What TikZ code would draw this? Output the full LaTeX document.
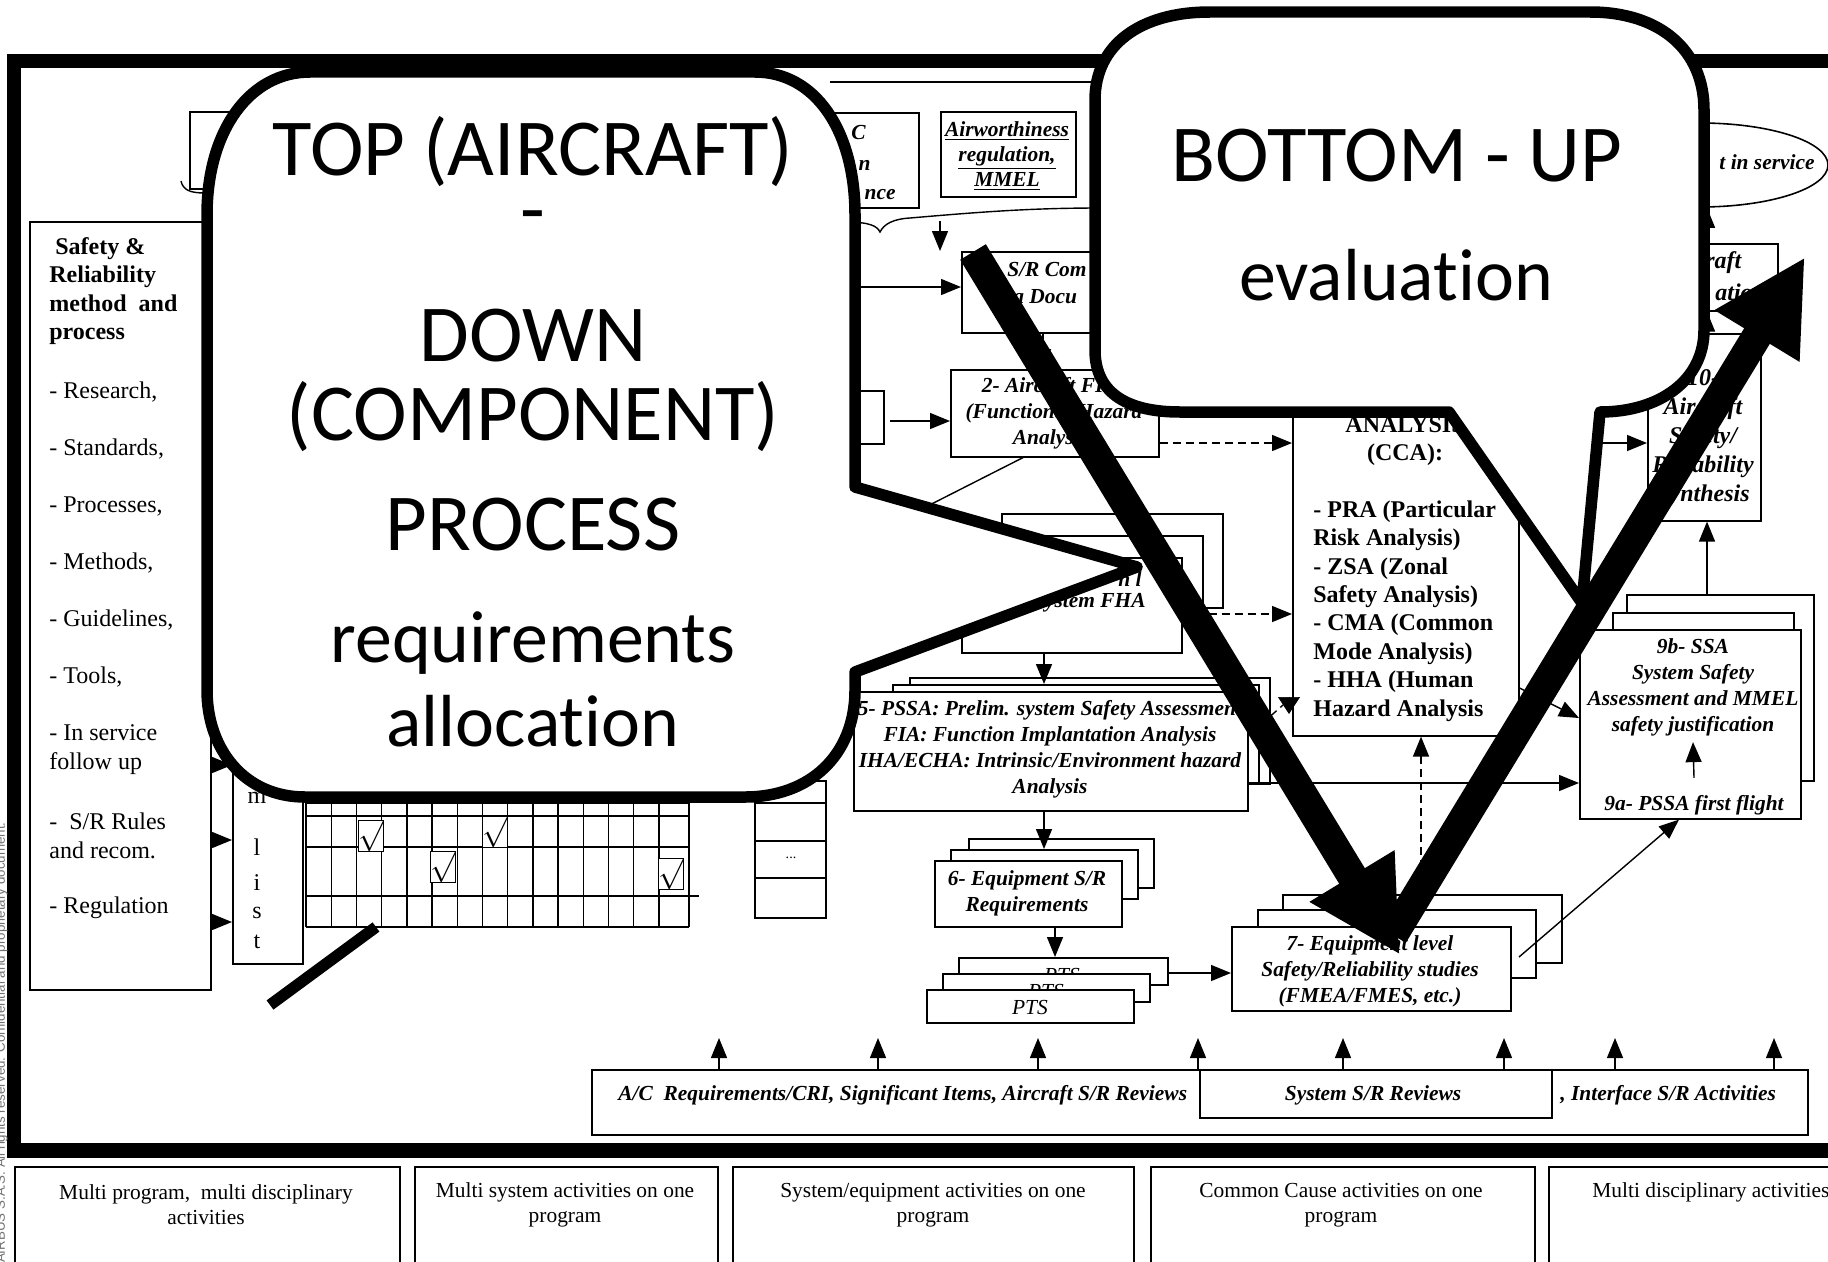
\documentclass[tikz,border=0pt]{standalone}
\usepackage{fontspec}
\setmainfont{Liberation Serif}
\newfontfamily\callfont[Ligatures=NoCommon]{Carlito}
\newfontfamily\notefont{Liberation Sans}
\usetikzlibrary{arrows.meta,shapes.geometric}

\newcommand{\tickmark}{{\fontsize{17}{17}\selectfont$\surd$}}

\tikzset{
  wh/.style 2 args={minimum width={#1*0.02cm}, minimum height={#2*0.02cm}},
  box/.style={draw, line width=0.9pt, fill=white, inner sep=0pt},
  bitext/.style={font=\bfseries\itshape\fontsize{12.2}{14.8}\selectfont, align=center, inner sep=0pt},
  bibig/.style={font=\bfseries\itshape\fontsize{13.66}{16.5}\selectfont, align=center, inner sep=0pt},
  ittext/.style={font=\itshape\fontsize{12.2}{14.8}\selectfont, inner sep=0pt},
  rmtext/.style={font=\fontsize{12.2}{14.2}\selectfont, align=center, inner sep=0pt},
  lefttext/.style={font=\fontsize{13.66}{16.5}\selectfont, align=left, inner sep=0pt},
  bftext/.style={font=\bfseries\fontsize{13.66}{16.2}\selectfont, align=left, inner sep=0pt},
  thinline/.style={line width=0.8pt},
  arr/.style={line width=0.8pt, -{Triangle[length=0.4cm, width=0.32cm]}},
  darr/.style={arr, dash pattern=on 0.16cm off 0.1cm},
  callout/.style={line width=0.23cm, fill=white, line join=round},
  capsline/.style={font=\callfont\fontsize{46}{46}\selectfont, inner sep=0pt, anchor=base},
  lowline/.style={font=\callfont\fontsize{42}{42}\selectfont, inner sep=0pt, anchor=base},
  fat/.style={line width=0.6cm, -{Triangle[length=1.85cm, width=1.85cm]}},
}

\begin{document}
\begin{tikzpicture}[x=0.02cm, y=-0.02cm]
  \useasboundingbox (0,0) rectangle (1828,1261);
  \fill[white] (0,0) rectangle (1828,1261);

  % frame and side note
  \draw[line width=0.3cm] (14,61) rectangle (1870,1150);
  \node[font=\notefont\fontsize{7.6}{7.6}\selectfont, text=black!55, rotate=90, anchor=base east, inner sep=0pt] (note) at (5,822) {\textcopyright{} AIRBUS S.A.S. All rights reserved. Confidential and proprietary document.};

  % left column
  \node[box, wh={181}{768}, anchor=north west] (srbox) at (29,221) {};
  \node[bftext, anchor=west] (srhead) at (49,291) {\hspace*{0.12cm}Safety \&\\Reliability\\method\ \ and\\process};
  \foreach \yy/\txt [count=\i] in {392/{- Research,}, 449/{- Standards,}, 506/{- Processes,}, 563/{- Methods,}, 620/{- Guidelines,}, 677/{- Tools,}, 750/{- In service\\follow up}, 836/{-\ \ S/R Rules\\and recom.}, 908/{- Regulation}}
    \node[lefttext, anchor=west] (item\i) at (49,\yy) {\txt};

  \node[box, wh={70}{190}, anchor=north west] (ilist) at (232,773) {};
  \foreach \yy/\ch [count=\i] in {798/m, 847/l, 883/i, 913/s, 942/t}
    \node[lefttext] (ch\i) at (257,\yy) {\ch};
  \foreach \yy [count=\i] in {765,840,922}
    \draw[arr] (srbox.east |- 0,\yy) -- (ilist.west |- 0,\yy);

  % grid
  \foreach \c in {0,...,14}
    \draw[thinline] ({306+25.2*\c},780) -- ({306+25.2*\c},927);
  \draw[thinline] (689,780) -- (689,927);
  \foreach \yy in {803,816,847,927}
    \draw[thinline] (306,\yy) -- (689,\yy);
  \draw[thinline] (306,896) -- (699,896);
  \foreach \xx/\yy [count=\i] in {371/836, 495/832, 443/867, 671/874}
    \node[box, wh={22}{31}, line width=0.6pt] (tick\i) at (\xx,\yy) {\tickmark};
  \node[box, wh={71}{137}, anchor=north west] (colbox) at (754,780) {};
  \foreach \yy in {803,841,878}
    \draw[thinline] (colbox.west |- 0,\yy) -- (colbox.east |- 0,\yy);
  \node[font=\fontsize{8}{8}\selectfont, inner sep=0pt] (dots) at (791,858) {...};
  \draw[line width=0.23cm] (270,1005) -- (376,927);

  % top inputs
  \draw[thinline] (830,82) -- (1100,82);
  \node[box, wh={141}{77}, anchor=north west] (tlbox) at (189,111) {};
  \node[box, wh={218}{95}, anchor=north west] (acbox) at (700,112) {};
  \node[bitext, anchor=east] (acC) at (866,133) {C};
  \node[bitext, anchor=east] (acn) at (871,165) {n};
  \node[bitext, anchor=east] (acnce) at (896,195) {nce};
  \node[box, wh={135}{85}, anchor=north west] (awbox) at (940,111) {};
  \node[bitext, font=\bfseries\itshape\fontsize{12.2}{14.2}\selectfont] (awtext) at (1007,156) {\underline{Airworthiness}\\\underline{regulation,}\\\underline{MMEL}};
  \draw[thinline] (181,181) .. controls (183,190) and (190,193) .. (205,193) -- (845,222) .. controls (870,222) and (877,226) .. (880,232) .. controls (884,224) and (893,219) .. (910,218) .. controls (980,212) and (1030,208) .. (1100,208);
  \coordinate (drop) at (940,221);

  % system chain
  \node[box, wh={200}{81}, anchor=north west] (b1) at (961,251) {};
  \node[bitext, anchor=west] (b1a) at (1007,270) {S/R Com};
  \node[bitext, anchor=west] (b1b) at (1013,297) {a Docu};
  \draw[arr] (drop) -- (b1.north -| drop);
  \coordinate (in1) at (850,287);
  \draw[arr] (in1) -- (b1.west |- in1);

  \node[box, wh={208}{87}, anchor=north west] (b2) at (950,369) {};
  \node[bitext] (b2t) at (1054,413) {2- Aircraft FHA\\(Functional Hazard\\Analysis)};
  \draw[arr] (b1.south -| 1043,0) -- (b2.north -| 1043,0);
  \node[box, wh={83}{53}, anchor=north west] (sbox) at (800,390) {};
  \coordinate (in2) at (890,421);
  \draw[arr] (in2) -- (b2.west |- in2);
  \draw[thinline] (b2.south -| 1023,0) -- (900,520);

  \node[box, wh={221}{94}, anchor=north west] (f3c) at (1001,513) {};
  \node[box, wh={222}{72}, anchor=north west] (f3b) at (980,535) {};
  \node[box, wh={220}{95}, anchor=north west] (f3a) at (961,557) {};
  \node[bitext, anchor=west] (f3t1) at (1118,579) {n l};
  \node[bitext, anchor=east] (f3t2) at (1146,603) {System FHA};

  \node[box, wh={360}{106}, anchor=north west] (p5c) at (909,677) {};
  \node[box, wh={366}{99}, anchor=north west] (p5b) at (892,684) {};
  \node[box, wh={394}{119}, anchor=north west] (p5a) at (853,691) {};
  \node[bitext] (p5t) at (1050,749) {5- PSSA: Prelim. system Safety Assessment\\FIA: Function Implantation Analysis\\IHA/ECHA: Intrinsic/Environment hazard\\Analysis};
  \draw[arr] (f3a.south -| 1044,0) -- (p5b.north -| 1044,0);

  \node[box, wh={185}{49}, anchor=north west] (e6c) at (968,838) {};
  \node[box, wh={187}{49}, anchor=north west] (e6b) at (950,849) {};
  \node[box, wh={187}{66}, anchor=north west] (e6a) at (934,860) {};
  \node[bitext] (e6t) at (1027,893) {6- Equipment S/R\\Requirements};
  \draw[arr] (p5a.south -| 1044,0) -- (e6b.north -| 1044,0);

  \node[box, wh={209}{27}, anchor=north west] (ptsc) at (958,957) {};
  \node[ittext] (ptsct) at (1062,975) {PTS};
  \node[box, wh={207}{28}, anchor=north west] (ptsb) at (942,973) {};
  \node[ittext] (ptsbt) at (1046,991) {PTS};
  \node[box, wh={207}{33}, anchor=north west] (ptsa) at (926,989) {};
  \node[ittext] (ptsat) at (1030,1007) {PTS};
  \draw[arr] (e6a.south -| 1055,0) -- (ptsc.north -| 1055,0);

  \node[box, wh={279}{68}, anchor=north west] (b7c) at (1282,894) {};
  \node[box, wh={278}{68}, anchor=north west] (b7b) at (1257,909) {};
  \node[box, wh={279}{84}, anchor=north west] (b7a) at (1231,926) {};
  \node[bitext] (b7t) at (1370,971) {7- Equipment level\\Safety/Reliability studies\\(FMEA/FMES, etc.)};
  \draw[arr] (ptsc.east |- 0,973) -- (b7a.west |- 0,973);

  % common cause analysis
  \node[box, wh={226}{365}, anchor=north west] (cca) at (1292,370) {};
  \node[font=\bfseries\fontsize{13.66}{16.2}\selectfont, align=center, inner sep=0pt] (ccah) at (1405,441) {ANALYSIS\\(CCA):};
  \node[bftext, anchor=west] (ccal) at (1313,611) {- PRA (Particular\\Risk Analysis)\\- ZSA (Zonal\\Safety Analysis)\\- CMA (Common\\Mode Analysis)\\- HHA (Human\\Hazard Analysis};
  \draw[darr] (b2.east |- 0,443) -- (cca.west |- 0,443);
  \draw[darr] (f3a.east |- 0,614) -- (cca.west |- 0,614);
  \draw[thinline, dash pattern=on 0.16cm off 0.1cm] (p5c.east |- 0,716) -- (1283,705);
  \draw[-{Triangle[length=0.34cm, width=0.44cm]}] (1289,697) -- (1289,714);
  \draw[darr] (b7c.north -| 1421,0) -- (cca.south -| 1421,0);

  % aircraft level
  \node[box, wh={187}{186}, anchor=north west] (s9c) at (1626,594) {};
  \node[box, wh={181}{100}, anchor=north west] (s9b) at (1612,612) {};
  \node[box, wh={221}{189}, anchor=north west] (s9a) at (1579,629) {};
  \node[bitext] (s9t) at (1693,687) {9b- SSA\\System Safety\\Assessment and MMEL\\safety justification};
  \node[bitext] (s9ft) at (1694,805) {9a- PSSA first flight};
  \draw[arr] ([yshift=0.34cm]s9ft.north) -- ([yshift=-0.12cm]s9t.south);
  \draw[arr] (cca.east |- 0,688) -- (s9a.west |- 0,718);
  \draw[arr] (p5a.east |- 0,783) -- (s9a.west |- 0,783);
  \coordinate (out7) at (1519,957);
  \draw[arr] (out7) -- (s9a.south -| 1679,0);

  \node[box, wh={113}{187}, anchor=north west] (b10) at (1647,333) {};
  \node[bibig] (b10t) at (1703,438) {10-\\Aircraft\\Safety/\\Reliability\\Synthesis};
  \draw[arr] (s9c.north -| 1707,0) -- (b10.south -| 1707,0);
  \coordinate (in10) at (1592,443);
  \draw[arr] (in10) -- (b10.west |- in10);

  \node[box, wh={130}{67}, anchor=north west] (b11) at (1647,243) {};
  \node[bibig, anchor=west] (b11a) at (1705,263) {raft};
  \node[bibig, anchor=west] (b11b) at (1715,292) {atio};
  \draw[arr] (b10.north -| 1707,0) -- (b11.south -| 1707,0);
  \node[draw, ellipse, line width=0.9pt, fill=white, minimum width=5.12cm, minimum height=1.68cm, inner sep=0pt] (ell) at (1700,165) {};
  \node[bitext, anchor=east] (ellt) at (1815,162) {t in service};
  \draw[arr] (b11.north -| 1707,0) -- (ell.south -| 1707,0);

  % reviews bar
  \node[box, wh={1216}{65}, anchor=north west] (revbar) at (591,1069) {};
  \node[box, wh={352}{48}, anchor=north west] (revsys) at (1199,1069) {};
  \node[bitext, anchor=west] (rev1) at (618,1095) {A/C\ \ Requirements/CRI, Significant Items, Aircraft S/R Reviews};
  \node[bitext] (rev2) at (1373,1095) {System S/R Reviews};
  \node[bitext, anchor=west] (rev3) at (1560,1095) {, Interface S/R Activities};
  \foreach \xx [count=\i] in {719,878,1038,1198,1343,1504,1615,1774} {
    \coordinate (up\i) at (\xx,1038);
    \draw[arr] (revbar.north -| up\i) -- (up\i);
  }

  % activity row
  \foreach \xa/\ww [count=\i] in {14/385, 414/303, 732/401, 1150/384, 1548/400}
    \node[box, line width=1.1pt, anchor=north west, wh={\ww}{150}] (row\i) at (\xa,1166) {};
  \node[rmtext] (row1t) at (206,1205) {Multi program,\ \ multi disciplinary\\activities};
  \node[rmtext] (row2t) at (565,1205) {Multi system activities on one\\program};
  \node[rmtext] (row3t) at (933,1205) {System/equipment activities on one\\program};
  \node[rmtext] (row4t) at (1341,1205) {Common Cause activities on one\\program};
  \node[rmtext, anchor=west] (row5t) at (1592,1192) {Multi disciplinary activities};

  % callouts
  \draw[callout] (310,72) -- (755,72) .. controls (815,72) and (855,130) .. (855,215) -- (855,487) -- (1137,567) -- (855,672) -- (855,690) .. controls (855,755) and (810,797) .. (745,797) -- (305,797) .. controls (245,797) and (207,750) .. (207,690) -- (207,215) .. controls (207,130) and (250,72) .. (310,72) -- cycle;
  \node[capsline] (td1) at (533,175) {TOP (AIRCRAFT)};
  \node[capsline] (td2) at (533,236) {-};
  \node[capsline] (td3) at (533,361) {DOWN};
  \node[capsline] (td4) at (533,440) {(COMPONENT)};
  \node[capsline] (td5) at (533,550) {PROCESS};
  \node[lowline] (td6) at (533,662) {requirements};
  \node[lowline] (td7) at (533,746) {allocation};

  \draw[callout] (1210,12) -- (1590,12) .. controls (1660,12) and (1704,50) .. (1704,110) -- (1704,330) .. controls (1704,380) and (1660,412) .. (1600,412) -- (1582,603) -- (1449,412) -- (1180,412) .. controls (1130,412) and (1095,395) .. (1095,350) -- (1095,100) .. controls (1095,45) and (1140,12) .. (1210,12) -- cycle;
  \node[capsline] (bu1) at (1397,181) {BOTTOM - UP};
  \node[lowline] (bu2) at (1396,300) {evaluation};

  % V arrows
  \draw[fat] (973,252) -- (1400,955);
  \draw[fat] (1393,935) -- (1805,257);
\end{tikzpicture}
\end{document}
